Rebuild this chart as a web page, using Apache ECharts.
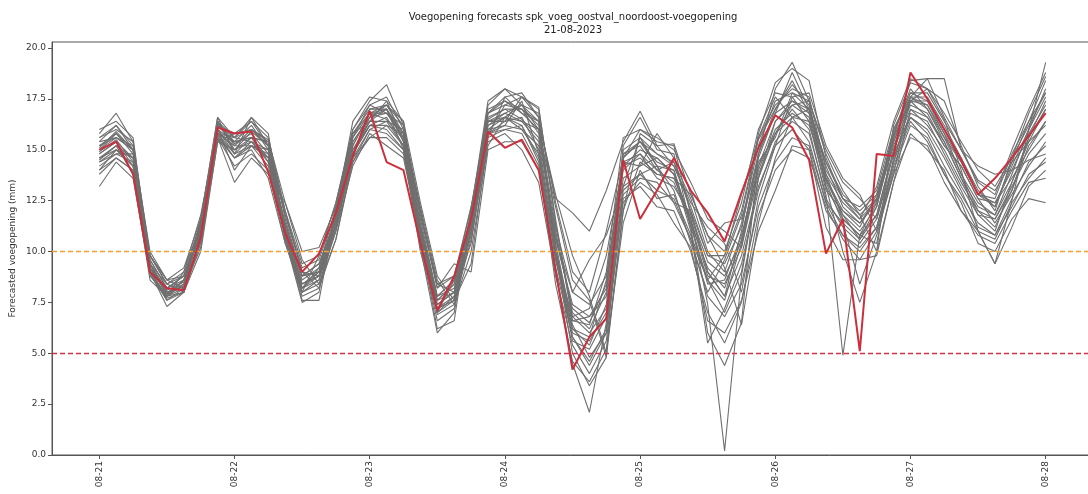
<!DOCTYPE html>
<html>
<head>
<meta charset="utf-8">
<script src="https://cdn.jsdelivr.net/npm/echarts@6/dist/echarts.min.js"></script>
<style>html,body{margin:0;padding:0;background:#fff;}#chart{width:1088px;height:494px;}</style>
</head>
<body>
<div id="chart"></div>
<script>
const hours = [0,3,6,9,12,15,18,21,24,27,30,33,36,39,42,45,48,51,54,57,60,63,66,69,72,75,78,81,84,87,90,93,96,99,102,105,108,111,114,117,120,123,126,129,132,135,138,141,144,147,150,153,156,159,162,165,168];
const dayTicks = [0,24,48,72,96,120,144,168];
const dayLabels = ["08-21","08-22","08-23","08-24","08-25","08-26","08-27","08-28"];
const yTicks = [0,2.5,5,7.5,10,12.5,15,17.5,20];
const thresholdHigh = 10.0;
const thresholdLow = 5.0;

const redLine = [15.0,15.4,13.8,9.0,8.2,8.1,10.7,16.1, 15.8,15.9,13.9,10.9,9.0,9.9,11.9,14.7, 16.9,14.4,14.0,10.4,7.1,8.8,11.6,15.9, 15.1,15.5,14.0,9.1,4.2,5.8,6.7,14.5, 11.6,13.0,14.6,13.0,11.9,10.5,12.9,15.1, 16.7,16.1,14.5,9.9,11.6,5.1,14.8,14.7, 18.8,17.5,16.0,14.5,12.8,13.6,14.6,15.7, 16.8];

const ensA = [15.2,15.8,14.8,9.4,8.1,8.5,11.0,16.2, 15.3,15.8,14.8,11.2,8.6,9.2,11.8,15.2, 16.8,16.5,15.5,11.4,7.8,8.2,11.4,16.5, 17.0,16.5,15.6,10.8,7.2,6.5,8.4,14.0, 14.8,13.6,13.2,11.8,9.5,8.8,10.5,14.0, 16.0,16.8,16.2,13.8,12.4,11.6,12.5,15.2, 17.2,16.8,15.2,14.2,12.6,12.4,13.6,15.0, 16.4];
const ensB = [13.8,14.6,14.0,8.9,7.6,8.0,10.4,15.6, 14.2,14.8,14.0,10.4,8.0,8.4,11.0,14.2, 15.8,15.2,14.6,10.6,6.9,7.4,10.6,15.4, 15.8,15.0,13.4,8.8,5.4,4.0,5.6,12.6, 13.2,12.2,12.0,10.0,7.0,5.5,7.5,11.8, 14.0,15.0,14.6,12.2,10.6,9.6,11.0,14.0, 16.2,15.6,13.8,12.6,11.0,10.6,12.4,13.6, 14.6];
const ensC = [15.8,16.8,15.4,9.0,7.3,8.0,11.5,16.6, 14.8,16.6,15.2,10.6,7.5,8.0,12.2,16.0, 17.4,18.2,16.2,10.2,6.0,7.0,11.8,17.2, 18.0,17.2,16.8,10.0,5.0,3.4,4.8,15.2, 16.6,15.0,14.8,11.2,6.0,4.4,6.5,14.8, 18.0,19.3,17.4,13.2,10.0,7.5,10.0,16.2, 18.3,18.0,16.5,14.0,11.0,9.4,12.5,16.0, 19.3];
const ensD = [14.5,15.2,13.8,8.6,7.8,9.0,11.8,16.0, 14.0,15.2,15.0,10.8,8.0,9.8,12.4,15.8, 16.4,17.0,15.0,10.0,7.0,8.6,12.2,16.0, 16.2,17.4,14.8,9.0,4.5,2.1,6.5,13.2, 15.6,14.2,13.0,10.4,8.0,9.6,11.8,15.5, 17.0,18.4,16.8,13.5,11.8,10.6,12.2,15.8, 18.0,17.0,15.6,13.8,12.0,11.2,13.0,15.6, 17.4];
const ensE = [15.4,15.6,15.2,10.0,8.6,8.2,10.2,15.4, 15.8,16.0,15.5,12.4,9.6,8.4,10.6,14.6, 17.0,17.2,16.4,12.4,8.8,7.6,9.4,15.6, 17.6,16.8,16.4,12.8,9.8,7.8,5.0,12.0, 15.8,15.2,14.2,12.4,11.2,10.4,8.0,12.6, 15.2,17.6,17.8,15.2,13.6,12.8,11.0,13.8, 17.6,18.5,16.6,15.0,13.5,13.0,14.4,15.4, 17.0];
const ensF = [14.2,14.8,14.4,9.6,8.2,8.8,10.8,15.8, 15.6,15.4,14.4,11.0,8.4,8.8,11.4,14.8, 16.2,16.0,15.0,11.0,7.4,8.0,11.0,16.0, 16.6,16.0,15.2,9.8,6.0,5.6,7.0,13.6, 14.2,14.6,13.8,11.0,5.5,7.2,9.4,13.0, 15.4,16.4,15.8,12.8,4.9,10.8,10.4,14.6, 16.8,16.4,14.8,13.2,11.8,11.6,13.2,14.8, 15.8];
const ensG = [14.8,15.4,14.6,9.2,8.0,8.4,11.2,16.4, 15.0,15.6,14.6,11.4,8.8,9.4,11.6,15.4, 16.6,16.8,15.8,11.8,8.2,8.8,11.6,16.4, 16.4,17.6,17.0,11.6,6.8,7.2,9.8,14.4, 14.2,15.8,14.6,13.0,10.4,11.4,11.6,14.4, 15.6,17.8,17.0,14.4,12.8,12.0,12.8,15.6, 18.4,18.5,18.5,15.0,14.2,13.8,14.0,14.5, 14.8];
const ensH = [14.0,15.0,14.2,9.4,8.4,9.0,11.4,15.8, 14.6,15.0,13.6,10.4,8.2,9.0,11.2,14.6, 15.6,15.6,14.8,10.6,7.6,8.0,11.0,15.8, 16.0,16.2,14.6,9.6,6.8,6.0,7.2,12.8, 13.6,13.4,12.4,12.0,9.0,7.8,9.8,13.2, 15.2,16.0,15.0,12.0,10.8,10.2,11.2,14.2, 16.4,15.4,13.8,12.4,10.4,10.0,11.6,12.6, 12.4];
const ensI = [15.6,16.0,15.4,9.8,8.4,8.8,11.4,16.2, 15.6,16.4,15.2,11.8,9.2,9.6,12.0,15.6, 17.2,17.6,16.0,11.2,7.4,8.0,12.0,17.0, 17.4,16.8,16.0,10.4,6.4,4.8,6.0,14.8, 15.2,14.0,14.4,12.6,10.0,9.0,11.4,15.2, 17.4,17.8,17.4,14.8,13.0,11.8,12.6,15.8, 17.8,17.4,16.0,14.6,13.0,12.2,14.2,16.0, 18.0];
const ensJ = [14.6,15.2,14.6,9.0,7.8,8.2,10.6,15.8, 15.2,15.2,14.8,11.0,8.4,8.8,11.6,15.0, 16.4,16.4,15.2,11.0,7.6,8.4,11.2,16.2, 16.8,16.4,15.4,10.2,5.6,5.2,6.8,14.2, 14.6,13.8,13.6,11.6,7.4,0.2,8.8,13.6, 16.4,17.2,16.6,13.4,11.4,10.6,11.8,15.0, 17.0,16.2,15.0,13.4,12.0,11.6,13.0,15.2, 16.4];
const ensK = [13.2,14.4,13.6,8.8,7.8,8.6,11.0,15.6, 13.4,14.6,13.8,12.4,10.0,10.2,12.2,14.4, 15.6,16.2,15.8,12.0,8.2,9.4,9.0,15.0, 15.4,15.4,14.0,10.6,8.0,9.6,10.8,13.2, 13.8,14.2,12.4,10.6,8.6,9.8,12.8,15.6, 17.6,16.6,15.4,12.4,11.4,8.4,10.8,13.8, 15.6,15.2,13.4,12.0,10.8,10.4,12.0,13.4, 13.6];
const ensL = [15.0,15.8,15.0,9.6,8.2,8.6,11.0,16.0, 15.4,16.2,15.0,11.2,8.8,9.0,11.6,15.2, 16.8,16.8,15.6,11.2,7.6,8.4,11.6,16.4, 16.8,17.2,16.4,12.6,11.9,11.0,13.0,15.4, 16.9,15.2,15.3,12.8,10.8,10.0,12.4,16.0, 17.8,17.6,16.4,13.0,12.0,11.4,12.4,16.0, 17.6,17.2,15.8,14.4,12.8,12.6,14.8,16.4, 18.4];
const ensM = [14.4,15.0,14.6,9.4,8.0,8.2,10.6,15.8, 14.8,15.6,14.4,10.6,8.0,8.6,11.4,14.8, 16.2,16.6,15.2,10.6,7.0,7.6,11.0,15.8, 16.2,16.0,14.8,9.6,5.8,4.6,6.2,12.4, 13.4,12.8,11.4,10.2,6.6,6.0,7.6,11.0, 13.0,15.2,15.0,11.2,9.6,9.6,9.8,13.4, 15.8,15.0,14.0,12.0,11.0,9.4,11.2,13.2, 14.0];
const ensN = [15.4,16.2,15.2,9.2,7.6,8.2,11.2,16.4, 15.2,16.0,15.4,11.0,8.2,8.8,12.0,15.8, 17.0,17.0,15.4,10.4,6.6,7.2,11.6,16.8, 17.6,17.8,16.6,10.0,6.2,5.8,8.6,14.6, 15.4,14.4,14.0,11.4,9.2,8.2,10.6,14.6, 16.8,18.8,17.0,13.6,12.0,11.2,12.8,15.4, 17.4,17.4,15.8,13.8,12.4,11.8,13.8,16.0, 17.6];
const ensO = [14.8,15.4,14.2,9.0,7.8,8.0,10.8,15.6, 14.6,15.4,14.6,10.8,7.8,8.2,11.2,14.8, 16.4,17.4,15.4,10.8,7.2,7.8,11.4,16.2, 16.6,16.2,14.4,8.4,4.6,3.6,5.2,11.4, 14.0,12.6,12.8,10.8,8.6,7.0,9.0,13.6, 15.8,17.0,16.0,12.6,11.2,10.4,11.6,14.8, 16.6,16.0,14.6,13.0,11.2,10.8,12.6,14.4, 15.2];
const ensP = [15.2,15.6,15.0,9.8,8.6,9.2,11.6,16.2, 15.8,16.4,15.6,12.0,9.4,9.8,12.4,16.0, 17.2,16.8,16.2,11.8,8.4,8.8,12.2,16.8, 17.2,17.0,15.8,11.0,7.0,6.2,8.0,15.0, 15.6,14.8,14.4,12.0,9.8,9.8,12.0,15.6, 17.2,18.0,17.6,14.0,12.6,12.2,13.0,16.0, 17.8,17.8,16.4,15.0,13.4,12.8,15.0,17.0, 18.8];
const ensQ = [14.4,14.8,14.8,9.8,8.4,8.0,10.0,15.4, 15.0,15.4,15.0,11.8,9.0,8.2,10.6,14.4, 16.0,16.4,16.0,12.2,8.6,7.4,10.0,15.2, 16.6,16.4,16.0,12.2,8.6,7.6,4.8,12.0, 14.4,13.8,13.6,12.8,10.8,9.2,6.4,11.4, 14.6,16.6,17.0,14.4,12.6,11.8,10.0,13.4, 17.0,16.6,15.2,14.2,12.6,11.4,12.8,14.2, 15.4];
const ensR = [16.0,16.4,15.6,9.4,7.8,8.4,11.6,16.6, 15.6,16.6,15.8,10.8,7.6,7.6,12.0,16.4, 17.6,17.4,16.4,10.6,6.2,6.6,12.0,17.4, 18.0,17.6,17.1,11.4,6.6,6.4,9.0,15.6, 16.0,15.4,15.2,11.8,9.0,7.8,11.0,15.8, 18.3,19.0,18.4,14.6,12.6,11.6,13.2,16.4, 18.5,18.0,17.4,15.2,13.2,12.0,14.6,16.8, 18.6];
const ensS = [14.9,15.5,14.4,9.2,7.9,8.3,11.0,16.0, 15.0,15.9,15.2,11.2,8.4,9.0,11.8,15.4, 16.6,17.0,15.6,11.0,7.2,7.6,11.2,16.4, 16.6,17.2,16.0,10.6,7.4,6.8,7.8,14.2, 15.0,14.6,13.8,11.6,8.8,8.4,10.2,14.2, 16.4,17.4,16.8,13.6,11.8,11.0,12.2,15.4, 17.6,17.0,15.4,13.6,12.2,11.8,13.4,15.6, 17.0];
const ensT = [15.1,15.9,15.0,9.4,8.0,8.3,11.2,16.3, 15.4,15.6,15.4,11.6,8.8,9.0,11.8,15.6, 16.8,17.0,15.8,11.6,7.8,8.6,11.8,16.6, 17.0,17.0,16.2,11.2,8.0,7.4,8.8,14.6, 15.4,14.8,14.2,12.2,9.8,9.4,11.2,14.8, 16.8,17.4,17.0,14.2,12.2,11.4,12.6,15.6, 17.4,17.2,15.6,14.4,12.8,12.4,14.0,15.8, 17.2];
const ensU = [14.0,14.6,14.0,9.0,7.7,8.0,10.5,15.7, 14.6,15.2,14.2,10.8,8.2,8.6,11.2,14.6, 16.0,15.8,15.0,10.8,7.2,7.6,10.8,15.6, 16.0,15.8,14.2,9.2,5.8,4.4,6.0,13.0, 13.8,13.0,12.6,10.6,7.8,6.8,8.4,12.2, 14.4,15.6,15.2,12.4,10.8,10.0,11.2,14.4, 16.6,15.8,14.2,12.8,11.4,10.8,12.2,13.8, 14.4];
const ensV = [15.0,15.6,15.0,9.8,8.6,8.8,10.8,15.8, 15.4,15.6,15.4,12.0,9.0,8.8,11.0,14.8, 16.6,17.2,16.2,12.0,8.4,8.0,10.4,15.8, 17.2,17.6,16.6,12.4,9.0,8.0,11.0,14.6, 16.0,15.6,15.0,13.4,11.6,11.0,10.2,13.8, 15.8,17.2,17.4,15.0,13.4,12.6,11.6,14.4, 17.4,18.0,16.8,15.4,14.0,13.2,14.6,16.2, 17.8];
const ensW = [15.6,16.2,15.0,9.4,7.9,8.6,11.4,16.4, 15.6,16.0,15.2,11.0,8.2,9.2,12.2,15.8, 16.8,17.2,15.8,10.8,7.0,7.8,11.8,16.8, 17.4,17.0,16.4,10.2,6.2,5.4,7.4,14.8, 15.4,14.2,14.0,11.2,8.6,7.6,10.4,14.8, 17.0,18.2,17.2,13.8,11.6,10.8,12.4,15.6, 17.6,17.6,16.2,14.6,12.8,12.2,14.4,16.4, 17.8];
const ensX = [14.6,15.0,14.2,9.2,8.2,8.8,11.2,16.0, 14.8,15.2,14.6,11.4,8.8,9.4,11.6,15.0, 16.2,16.2,15.2,11.2,7.8,8.6,11.4,15.8, 16.4,16.6,15.0,10.0,6.6,6.8,8.2,14.4, 14.8,14.0,13.4,11.4,8.4,8.6,10.8,14.2, 15.8,16.6,16.4,13.2,11.6,10.8,11.8,15.0, 17.4,16.6,15.4,13.6,11.8,11.0,13.4,15.4, 16.2];

const members = [ensA,ensB,ensC,ensD,ensE,ensF,ensG,ensH,ensI,ensJ,ensK,ensL,ensM,ensN,ensO,ensP,ensQ,ensR,ensS,ensT,ensU,ensV,ensW,ensX];

const pair = arr => arr.map((v, i) => [hours[i], v]);
const FONT = "DejaVu Sans";

const series = members.map(m => ({
  type: 'line', data: pair(m), showSymbol: false, silent: true,
  lineStyle: { color: '#6f6f6f', width: 1.1 }, z: 2
}));
series.push({
  type: 'line', data: pair(redLine), showSymbol: false, silent: true,
  lineStyle: { color: '#cc2f3c', width: 2 }, z: 5,
  markLine: {
    silent: true, symbol: 'none', label: { show: false },
    data: [
      { yAxis: thresholdHigh, lineStyle: { color: '#f2a12e', type: [5, 3], width: 1.3 } },
      { yAxis: thresholdLow, lineStyle: { color: '#d1304a', type: [5, 3], width: 1.3 } }
    ]
  }
});

const chart = echarts.init(document.getElementById('chart'), null, { renderer: 'canvas' });
chart.setOption({
  animation: false,
  backgroundColor: '#ffffff',
  grid: { left: 52, top: 42, width: 1041, height: 413, outerBoundsMode: 'none', containLabel: false, show: true, borderColor: '#555', borderWidth: 1, backgroundColor: 'transparent' },
  xAxis: {
    type: 'value', min: -8.4, max: 176.4,
    axisLine: { show: true, onZero: false, lineStyle: { color: '#555', width: 1 } },
    axisTick: { show: true, customValues: dayTicks, length: 4, lineStyle: { color: '#555' } },
    axisLabel: {
      customValues: dayTicks, rotate: 90, fontFamily: FONT, fontSize: 9, color: '#333', margin: 6,
      formatter: v => dayLabels[Math.round(v / 24)] || ''
    },
    splitLine: { show: false }
  },
  yAxis: {
    type: 'value', min: 0, max: 20.3,
    name: 'Forecasted voegopening (mm)', nameLocation: 'middle', nameGap: 35, nameMoveOverlap: false,
    nameTextStyle: { fontFamily: FONT, fontSize: 9, color: '#333' },
    axisLine: { show: true, onZero: false, lineStyle: { color: '#555', width: 1 } },
    axisTick: { show: true, customValues: yTicks, length: 4, lineStyle: { color: '#555' } },
    axisLabel: { customValues: yTicks, fontFamily: FONT, fontSize: 9, color: '#333', margin: 6, formatter: v => v.toFixed(1) },
    splitLine: { show: false }
  },
  graphic: [
    { type: 'text', x: 573, y: 17, style: { text: 'Voegopening forecasts spk_voeg_oostval_noordoost-voegopening', font: '10px "DejaVu Sans"', fill: '#222', textAlign: 'center', textVerticalAlign: 'middle' } },
    { type: 'text', x: 573, y: 30, style: { text: '21-08-2023', font: '10px "DejaVu Sans"', fill: '#222', textAlign: 'center', textVerticalAlign: 'middle' } }
  ],
  series: series
});
</script>
</body>
</html>
